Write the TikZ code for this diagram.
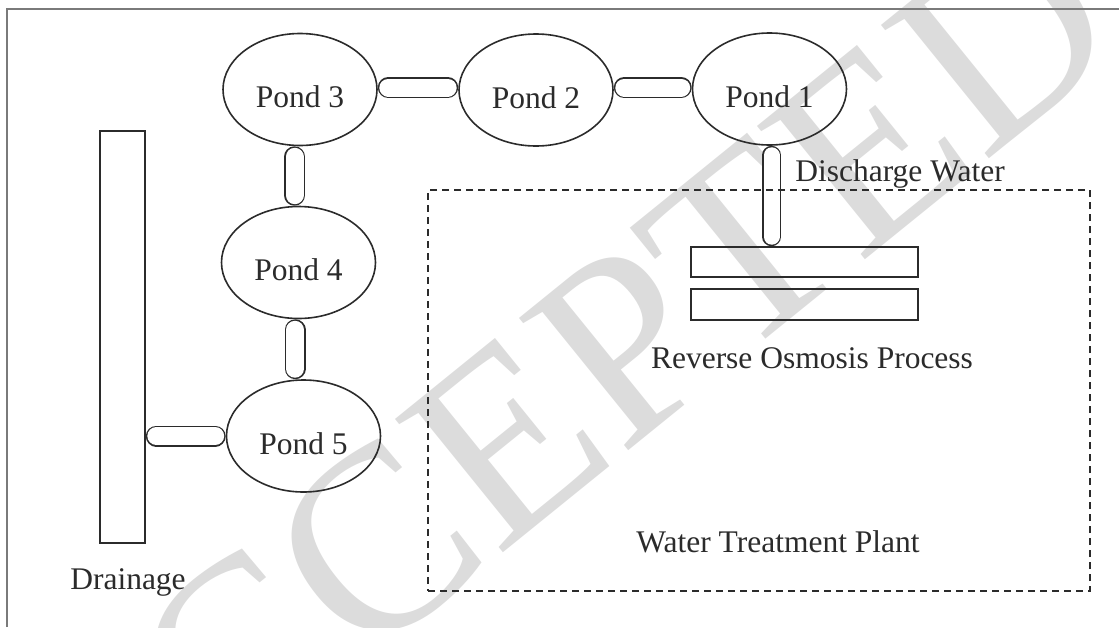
\documentclass[tikz,border=0pt]{standalone}
\usepackage{fontspec}
\setmainfont{Liberation Serif}
\usetikzlibrary{shapes.geometric}
\pgfdeclarelayer{wmlayer}
\pgfdeclarelayer{pipelayer}
\pgfsetlayers{wmlayer,pipelayer,main}
\definecolor{ink}{HTML}{2B2B2B}
\definecolor{wmgray}{HTML}{DCDCDC}
\definecolor{framegray}{HTML}{7A7A7A}
\begin{document}
\begin{tikzpicture}[x=1pt,y=-1pt,
  pond/.style={ellipse,draw=ink,line width=1.6pt,minimum width=154pt,minimum height=112pt,inner sep=0pt,text height=36pt,text depth=0pt,text=ink,font=\fontsize{31.5}{36}\selectfont},
  lbl/.style={anchor=base,inner sep=0pt,text=ink,font=\fontsize{31.5}{36}\selectfont},
  pipe/.style={draw=ink,line width=1.5pt,double=white,double distance=18pt,line cap=round,shorten <=10.5pt,shorten >=10.5pt},
  tank/.style={draw=ink,line width=1.6pt,inner sep=0pt},
  plant/.style={draw=ink,line width=2pt,dash pattern=on 7pt off 5pt,inner sep=0pt},
  frame/.style={draw=framegray,line width=1.5pt},
  wm/.style={text=wmgray,rotate=39,inner sep=0pt,font=\fontsize{262}{262}\selectfont}
]
\useasboundingbox (0,0) rectangle (1119,627);
\begin{pgfonlayer}{wmlayer}
  \begin{scope}
    \clip (0,0) rectangle (1119,627);
    \node[wm] (wmark) at (551,404) {ACCEPTED};
  \end{scope}
\end{pgfonlayer}
% frame
\coordinate (fbl) at (7,627);
\coordinate (ftl) at (7,9);
\coordinate (ftr) at (1119,9);
\draw[frame] (fbl) -- (ftl) -- (ftr);
% ponds
\node[pond] (p3) at (300,89.5) {Pond 3};
\node[pond] (p2) at (536,90) {Pond 2};
\node[pond] (p1) at (769.5,89) {Pond 1};
\node[pond] (p4) at (298.5,262.5) {Pond 4};
\node[pond] (p5) at (303.5,436) {Pond 5};
% drainage
\node[tank,minimum width=45pt,minimum height=412pt] (drain) at (122.5,337) {};
\node[lbl] (drainlbl) at (128,589) {Drainage};
% water treatment plant
\node[plant,minimum width=662pt,minimum height=401pt] (wtp) at (759,390.5) {};
\node[tank,minimum width=227pt,minimum height=30pt] (ro1) at (804.5,262) {};
\node[tank,minimum width=227pt,minimum height=31pt] (ro2) at (804.5,304.5) {};
\node[lbl] (dischlbl) at (900,181) {Discharge Water};
\node[lbl] (rolbl) at (812,368) {Reverse Osmosis Process};
\node[lbl] (wtplbl) at (778,552) {Water Treatment Plant};
% pipes
\begin{pgfonlayer}{pipelayer}
  \draw[pipe] ([yshift=2pt]p3.east) -- ([yshift=2.5pt]p2.west);
  \draw[pipe] ([yshift=2.5pt]p2.east) -- ([yshift=1.5pt]p1.west);
  \draw[pipe] ([xshift=-5.5pt]p3.south) -- ([xshift=-4pt]p4.north);
  \draw[pipe] ([xshift=-3.5pt]p4.south) -- ([xshift=-8.5pt]p5.north);
  \draw[pipe] (drain.east |- p5.west) -- (p5.west);
  \draw[pipe,double distance=16pt,shorten <=9.5pt,shorten >=9.5pt] ([xshift=2pt]p1.south) -- ([xshift=2pt]p1.south |- ro1.north);
\end{pgfonlayer}
\end{tikzpicture}
\end{document}
